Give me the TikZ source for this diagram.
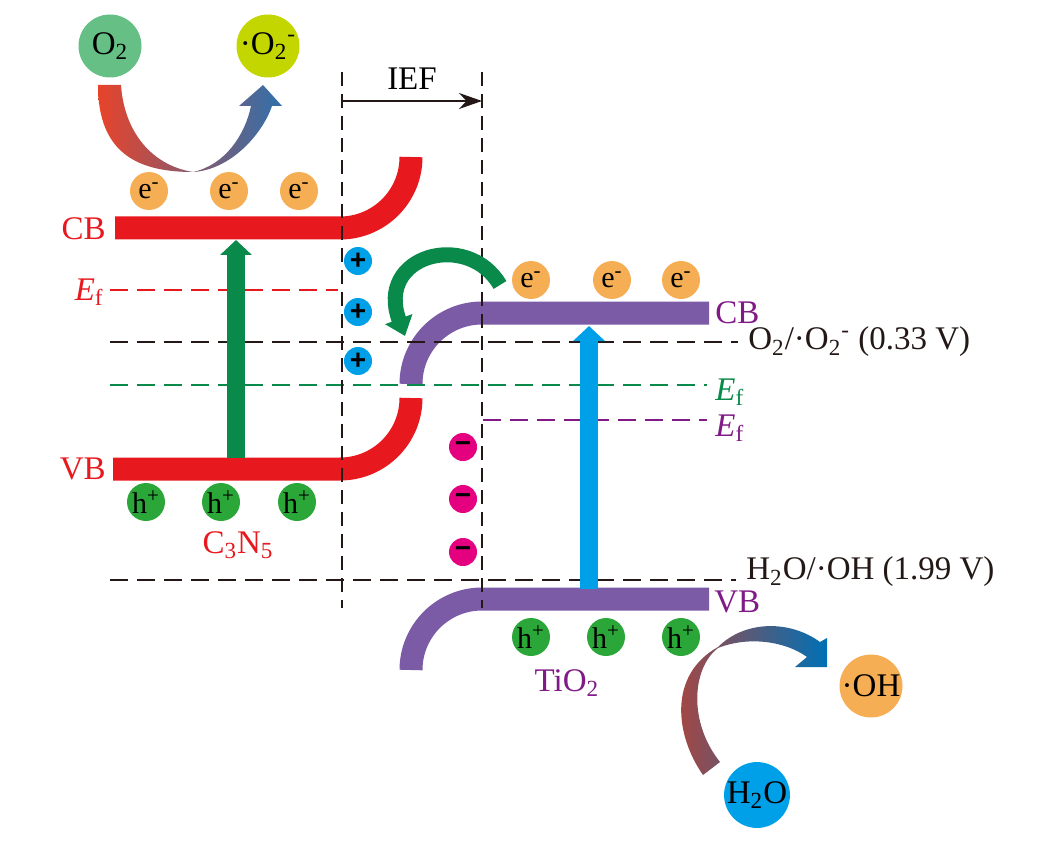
\documentclass[tikz,border=0pt]{standalone}
\usepackage{fontspec}
\setmainfont{Liberation Serif}
\newfontfamily\signfont{Liberation Sans}
\usepackage{xcolor}
\usetikzlibrary{positioning, arrows.meta, calc}
\definecolor{bandred}{HTML}{E8191E}
\definecolor{bandpurple}{HTML}{7B5BA6}
\definecolor{textpurple}{HTML}{801A86}
\definecolor{arrowgreen}{HTML}{0A8A4A}
\definecolor{skyblue}{HTML}{00A0E9}
\definecolor{magentared}{HTML}{E4007F}
\definecolor{eorange}{HTML}{F6AE55}
\definecolor{hgreen}{HTML}{2BA639}
\definecolor{mintgreen}{HTML}{66BF85}
\definecolor{limegreen}{HTML}{C4D600}
\definecolor{darkline}{HTML}{231815}
\definecolor{shadered}{HTML}{E8432A}
\definecolor{shadeblue}{HTML}{2F70AC}
\definecolor{brickred}{HTML}{B0443C}
\definecolor{deepblue}{HTML}{0070B5}

\tikzset{
  bandbar/.style={line width=11.5pt},
  potline/.style={dash pattern=on 9pt off 4.5pt, line width=1pt},
  wallline/.style={darkline, dash pattern=on 7pt off 4pt, line width=1pt},
  carrier/.style={circle, inner sep=0pt, minimum size=19pt, font=\fontsize{15}{15}\selectfont},
  charge/.style={circle, inner sep=0pt, minimum size=14pt, font=\signfont\bfseries\fontsize{14}{14}\selectfont},
  species/.style={circle, inner sep=0pt, minimum size=31.5pt, font=\fontsize{16.5}{16.5}\selectfont},
  lbl/.style={inner sep=0pt, font=\fontsize{16.5}{16.5}\selectfont},
  excite/.style={line width=9pt, -{Triangle[width=15.5pt,length=7.5pt]}},
}

\begin{document}
\begin{tikzpicture}[x=0.5pt, y=-0.5pt]
  \useasboundingbox (0,0) rectangle (1038,850);

  % bands
  \draw[bandbar, bandred] (115,228) -- (340,228) arc[start angle=90, end angle=0, radius=71];
  \draw[bandbar, bandred] (113,469) -- (340,469) arc[start angle=90, end angle=0, radius=71];
  \draw[bandbar, bandpurple] (709,313) -- (482,313) arc[start angle=270, end angle=180, radius=71];
  \draw[bandbar, bandpurple] (709,599) -- (482,599) arc[start angle=270, end angle=180, radius=71];

  % levels
  \draw[potline, bandred] (110,290) -- (338,290);
  \draw[potline, darkline] (110,342) -- (738,342);
  \draw[potline, arrowgreen] (110,385) -- (707,385);
  \draw[potline, textpurple] (483,420) -- (707,420);
  \draw[potline, darkline] (110,580) -- (736,580);
  \draw[wallline] (342,72) -- (342,608);
  \draw[wallline] (482,72) -- (482,608);

  \coordinate (iefl) at (342,101);
  \coordinate (iefr) at (482,101);
  \draw[darkline, line width=0.7pt, -{Stealth[length=11.5pt, width=8pt]}] (iefl) -- (iefr);
  \node[lbl] (ief) at (412,79) {IEF};

  % excitation
  \coordinate (cnvb) at (236,458);
  \coordinate (cncb) at (236,240);
  \coordinate (tivb) at (589,589);
  \coordinate (ticb) at (589,326);
  \draw[excite, arrowgreen] (cnvb) -- (cncb);
  \draw[excite, skyblue] (tivb) -- (ticb);

  \coordinate (tfrom) at (500,285);
  \coordinate (tto) at (405,336);
  \draw[arrowgreen, line width=7.5pt, -{Triangle[width=14pt, length=9pt]}]
    (tfrom) .. controls (468,230) and (375,255) .. (tto);

  % redox arrows
  \shade[left color=shadered, right color=shadeblue]
    (98,85) .. controls (98,155) and (140,172) .. (193,172)
    .. controls (230,170) and (262,135) .. (272,106)
    -- (282,106) -- (263,85) -- (239,106) -- (251,106)
    .. controls (245,135) and (225,165) .. (193,172)
    .. controls (150,165) and (124,130) .. (121,85) -- cycle;
  \shade[left color=brickred, right color=deepblue]
    (703,775) .. controls (675,735) and (668,675) .. (718,647)
    .. controls (745,620) and (790,620) .. (820,642)
    -- (827,638) -- (827,667) -- (795,667) -- (807,657)
    .. controls (785,641) and (748,636) .. (718,648)
    .. controls (692,668) and (688,722) .. (720,762) -- cycle;

  % carriers
  \foreach \x [count=\i] in {149,229,299}
    \node[carrier, fill=eorange] (ecn\i) at (\x,191) {e\textsuperscript{-}};
  \foreach \x [count=\i] in {531,612,681}
    \node[carrier, fill=eorange] (eti\i) at (\x,280) {e\textsuperscript{-}};
  \foreach \x [count=\i] in {146,221,297}
    \node[carrier, fill=hgreen] (hcn\i) at (\x,502) {h\textsuperscript{+}};
  \foreach \x [count=\i] in {531,606,681}
    \node[carrier, fill=hgreen] (hti\i) at (\x,637) {h\textsuperscript{+}};
  \foreach \y [count=\i] in {261,312,361}
    \node[charge, fill=skyblue] (pos\i) at (358,\y) {+};
  \foreach \y [count=\i] in {447,499,552}
    \node[charge, fill=magentared] (neg\i) at (463,\y) {−};

  \node[species, fill=mintgreen] (oxy) at (110,46) {O\textsubscript{2}};
  \node[species, fill=limegreen] (sup) at (268,46) {·O\textsubscript{2}\textsuperscript{-}};
  \node[species, fill=eorange] (hyd) at (871,686) {·OH};
  \node[species, fill=skyblue] (wat) at (757,795) {H\textsubscript{2}O};

  % labels
  \node[lbl, bandred, anchor=east] (cncbl) at (106,229) {CB};
  \node[lbl, bandred, anchor=east] (cnefl) at (104,292) {\textit{E}\textsubscript{f}};
  \node[lbl, bandred, anchor=east] (cnvbl) at (106,469) {VB};
  \node[lbl, bandred] (cnname) at (238,545) {C\textsubscript{3}N\textsubscript{5}};
  \node[lbl, textpurple, anchor=west] (ticbl) at (715,313) {CB};
  \node[lbl, textpurple, anchor=west] (tivbl) at (714,602) {VB};
  \node[lbl, textpurple] (tiname) at (567,683) {TiO\textsubscript{2}};
  \node[lbl, arrowgreen, anchor=west] (hjefl) at (715,392) {\textit{E}\textsubscript{f}};
  \node[lbl, textpurple, anchor=west] (tiefl) at (715,428) {\textit{E}\textsubscript{f}};
  \node[lbl, darkline, anchor=west] (o2pot) at (748,342) {O\textsubscript{2}/·O\textsubscript{2}\textsuperscript{-} (0.33 V)};
  \node[lbl, darkline, anchor=west] (ohpot) at (746,572) {H\textsubscript{2}O/·OH (1.99 V)};
\end{tikzpicture}
\end{document}
